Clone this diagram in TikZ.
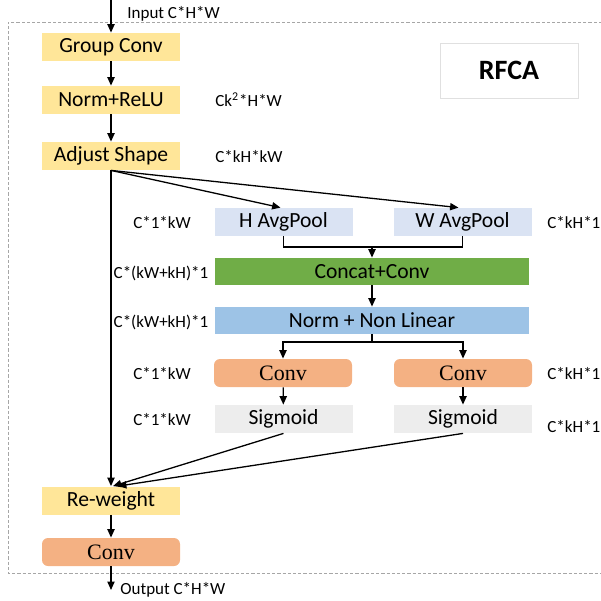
\documentclass[tikz,border=0pt]{standalone}
\usepackage{fontspec}
\setmainfont{Carlito}
\newfontfamily\convfont{Liberation Serif}
\usetikzlibrary{arrows.meta,calc}
\definecolor{ylw}{HTML}{FFE699}
\definecolor{org}{HTML}{F4B183}
\definecolor{pool}{HTML}{DAE3F3}
\definecolor{grn}{HTML}{70AD47}
\definecolor{nrm}{HTML}{9DC3E6}
\definecolor{sig}{HTML}{EDEDED}
\definecolor{frame}{HTML}{A6A6A6}
\begin{document}
\begin{tikzpicture}[x=0.5pt,y=-0.5pt,
  >={Triangle[length=4.2pt,width=3.6pt]},
  flow/.style={->,line width=0.65pt},
  wire/.style={line width=0.65pt},
  box/.style={minimum width=69pt,minimum height=14pt,inner sep=0pt,
    font=\fontsize{10.8}{12}\selectfont},
  wide/.style={box,minimum width=157pt,minimum height=13.5pt},
  yellowbox/.style={box,fill=ylw},
  convbox/.style={box,fill=org,rounded corners=3pt,
    font=\convfont\fontsize{11}{12}\selectfont},
  poolbox/.style={box,fill=pool},
  sigbox/.style={box,fill=sig},
  dimlabel/.style={inner sep=0pt,font=\fontsize{8.5}{10}\selectfont}]
\useasboundingbox (0,0) rectangle (601,601);

% dashed module frame
\draw[frame,line width=0.5pt,dash pattern=on 1.6pt off 1pt]
  (602,22) -- (8,22) -- (8,573) -- (602,573);

% title
\node[draw=black!12,line width=0.4pt,minimum width=69pt,minimum height=27.5pt,
  font=\bfseries\fontsize{14}{16}\selectfont] (title) at (509,70.5) {RFCA};

% main column
\coordinate (in) at (111,0);
\node[yellowbox] (gc) at (111,47) {Group Conv};
\node[yellowbox] (nr) at (111,100) {Norm+ReLU};
\node[yellowbox] (as) at (111,156) {Adjust Shape};
\node[yellowbox] (rw) at (111,500.5) {Re-weight};
\node[convbox]   (oc) at (111,552) {Conv};
\coordinate (out) at (111,590);

% attention branch
\node[poolbox] (hp) at (283.5,222) {H AvgPool};
\node[poolbox] (wp) at (462.5,222) {W AvgPool};
\node[wide,fill=grn] (cc) at (372,271.5) {Concat+Conv};
\node[wide,fill=nrm] (nl) at (372,320.5) {Norm + Non Linear};
\node[convbox] (c1) at (283,373) {Conv};
\node[convbox] (c2) at (463,373) {Conv};
\node[sigbox] (s1) at (283.5,419) {Sigmoid};
\node[sigbox] (s2) at (463,419) {Sigmoid};

% tensor shapes
\node[dimlabel,anchor=west] (lin) at (127,14) {Input C*H*W};
\node[dimlabel,anchor=west] (lout) at (120,590) {Output C*H*W};
\node[dimlabel,anchor=west] (d1) at (215,100) {Ck\textsuperscript{2}*H*W};
\node[dimlabel,anchor=west] (d2) at (215,157) {C*kH*kW};
\node[dimlabel] (d3) at (162,223) {C*1*kW};
\node[dimlabel,anchor=west] (d4) at (547,223) {C*kH*1};
\node[dimlabel] (d5) at (161,273) {C*(kW+kH)*1};
\node[dimlabel] (d6) at (161,322) {C*(kW+kH)*1};
\node[dimlabel] (d7) at (162,374) {C*1*kW};
\node[dimlabel,anchor=west] (d8) at (547,374) {C*kH*1};
\node[dimlabel] (d9) at (162,420) {C*1*kW};
\node[dimlabel,anchor=west] (d10) at (547,427) {C*kH*1};

% connectors
\draw[flow] (in) -- (gc);
\draw[flow] (gc) -- (nr);
\draw[flow] (nr) -- (as);
\draw[flow] (as.south) -- ($(hp.north)+(-3,0)$);
\draw[flow] (as.south) -- ($(wp.north)+(-4,0)$);
\draw[flow] (as.south) -- (rw.north);
\draw[wire] (hp.south) |- (372,247) -| (wp.south);
\draw[flow] (372,247) -- (cc.north);
\draw[flow] (cc) -- (nl);
\draw[wire] (nl.south) -- (372,342);
\draw[flow] (372,342) -| (c1.north);
\draw[flow] (372,342) -| (c2.north);
\draw[flow] (c1) -- (s1);
\draw[flow] (c2) -- (s2);
\draw[flow] (s1.south) -- ($(rw.north)+(2,0)$);
\draw[flow] (s2.south) -- ($(rw.north)+(7,0)$);
\draw[flow] (rw) -- (oc);
\draw[flow] (oc) -- (out);
\end{tikzpicture}
\end{document}
